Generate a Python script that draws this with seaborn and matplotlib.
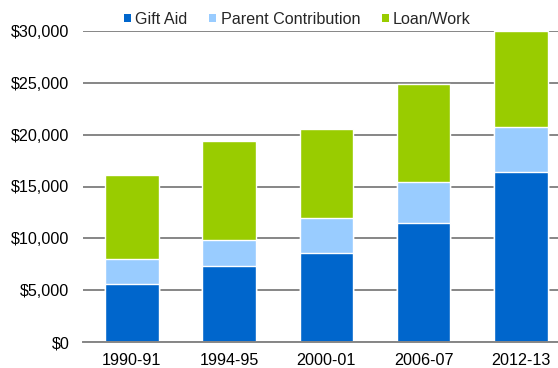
import matplotlib
matplotlib.use("Agg")
import matplotlib.pyplot as plt
from matplotlib.patches import Patch
from matplotlib.ticker import FuncFormatter, FixedLocator
import seaborn as sns
import numpy as np
import pandas as pd

years = ["1990-91", "1994-95", "2000-01", "2006-07", "2012-13"]
gift_aid = [5600, 7350, 8550, 11450, 16400]
parent_contribution = [2400, 2500, 3400, 4000, 4350]
loan_work = [8150, 9550, 8600, 9450, 9250]

series_names = ["Gift Aid", "Parent Contribution", "Loan/Work"]
colors = ["#0066CC", "#99CCFF", "#99CC00"]

sns.set_style("white")
plt.rcParams["font.family"] = ["Liberation Sans", "DejaVu Sans"]
FS = 11.6

df = pd.DataFrame({
    "year": years,
    "gift": gift_aid,
    "parent": parent_contribution,
    "loan": loan_work,
})
df["gift_parent"] = df["gift"] + df["parent"]
df["total"] = df["gift_parent"] + df["loan"]

fig = plt.figure(figsize=(5.58, 3.68), dpi=100)
ax = fig.add_axes([83.3 / 558, 1 - 342 / 368, 1 - 83.3 / 558, (342 - 31) / 368])

# stacked bars drawn as overlapping cumulative totals
for col, color in zip(["total", "gift_parent", "gift"], colors[::-1]):
    sns.barplot(data=df, x="year", y=col, color=color, width=0.55,
                edgecolor="white", linewidth=1.0, saturation=1, ax=ax, zorder=3)

ax.yaxis.set_major_locator(FixedLocator(np.arange(0, 30001, 5000)))
ax.yaxis.set_major_formatter(FuncFormatter(lambda v, p: f"${v:,.0f}"))
ax.grid(axis="y", color="#868686", linewidth=1.4, zorder=0)
ax.set_axisbelow(True)

for s in ["top", "right", "left"]:
    ax.spines[s].set_visible(False)
ax.spines["bottom"].set_color("#868686")
ax.spines["bottom"].set_linewidth(1.4)
ax.spines["bottom"].set_zorder(4)

ax.set_xlabel("")
ax.set_ylabel("")
ax.tick_params(axis="y", length=0, pad=10, labelsize=FS, labelcolor="#000000")
ax.tick_params(axis="x", which="major", length=0, pad=8, labelsize=FS, labelcolor="#000000")
ax.set_xticks(np.arange(-0.5, 4.6, 1.0), minor=True)
ax.tick_params(axis="x", which="minor", length=5, width=1.3, color="#868686", direction="out")

ax.set_ylim(0, 30000)
ax.set_xlim(-0.5, 4.381)

handles = [Patch(facecolor=c, edgecolor="none") for c in colors]
fig.legend(handles, series_names, loc="center", bbox_to_anchor=(0.533, 1 - 19 / 368),
           ncol=3, frameon=False, fontsize=FS, handlelength=0.43, handleheight=0.43,
           handletextpad=0.27, columnspacing=1.35)

fig.savefig("out.png", dpi=100)
